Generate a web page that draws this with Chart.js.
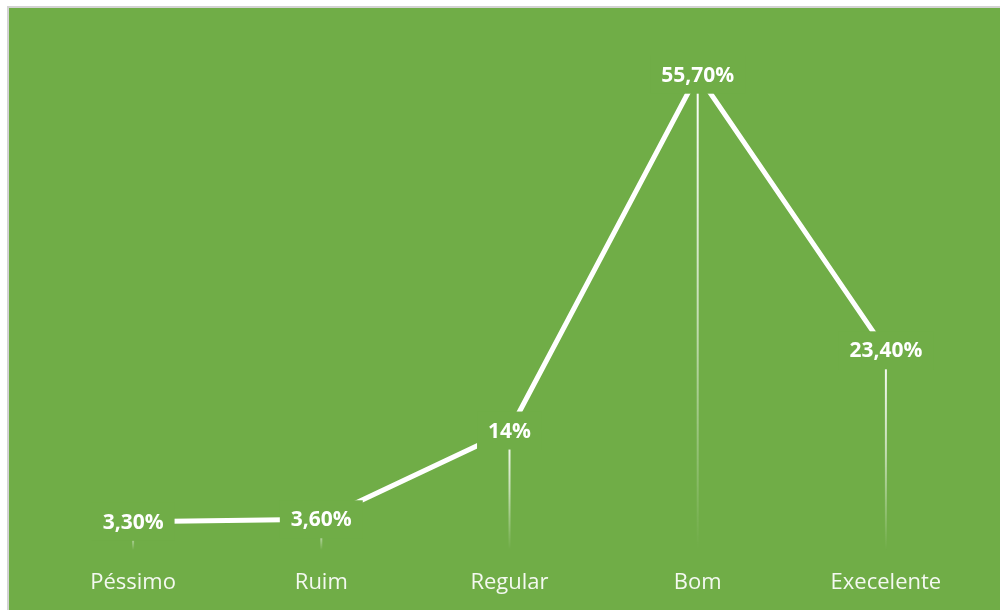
<!DOCTYPE html>
<html>
<head>
<meta charset="utf-8">
<script src="https://cdn.jsdelivr.net/npm/chart.js@4/dist/chart.umd.min.js"></script>
<style>
  html, body { margin: 0; padding: 0; background: #ffffff; overflow: hidden; width: 1000px; height: 610px; }
  #frame { position: absolute; left: 7px; top: 6px; width: 1010px; height: 620px; border: 2px solid #d3d3d3; background: #70AD47; }
  #wrap { position: absolute; left: 0; top: 0; width: 991px; height: 602px; }
</style>
</head>
<body>
<div id="frame"><div id="wrap"><canvas id="c"></canvas></div></div>
<script>
const categories = ["Péssimo", "Ruim", "Regular", "Bom", "Execelente"];
const values = [3.3, 3.6, 14, 55.7, 23.4];
const valueLabels = ["3,30%", "3,60%", "14%", "55,70%", "23,40%"];
const yMin = 0;
const yMax = 60;

const GREEN = '#70AD47';

const dropLines = {
  id: 'dropLines',
  beforeDatasetsDraw(chart) {
    const ctx = chart.ctx;
    const meta = chart.getDatasetMeta(0);
    const yBottom = chart.scales.y.getPixelForValue(0);
    ctx.save();
    meta.data.forEach(pt => {
      const g = ctx.createLinearGradient(0, pt.y, 0, yBottom);
      g.addColorStop(0, 'rgba(255,255,255,1)');
      g.addColorStop(0.5, 'rgba(255,255,255,0.6)');
      g.addColorStop(1, 'rgba(255,255,255,0)');
      ctx.strokeStyle = g;
      ctx.lineWidth = 2;
      ctx.beginPath();
      ctx.moveTo(pt.x, pt.y);
      ctx.lineTo(pt.x, yBottom);
      ctx.stroke();
    });
    ctx.restore();
  }
};

const dataLabels = {
  id: 'dataLabels',
  afterDatasetsDraw(chart) {
    const ctx = chart.ctx;
    const meta = chart.getDatasetMeta(0);
    ctx.save();
    ctx.font = 'bold 21px "Open Sans"';
    ctx.textAlign = 'center';
    ctx.textBaseline = 'middle';
    meta.data.forEach((pt, i) => {
      const txt = valueLabels[i];
      const w = ctx.measureText(txt).width;
      ctx.fillStyle = GREEN;
      ctx.fillRect(pt.x - w / 2 - 11, pt.y - 19, w + 22, 38);
      ctx.fillStyle = '#ffffff';
      ctx.fillText(txt, pt.x, pt.y + 1);
    });
    ctx.restore();
  }
};

new Chart(document.getElementById('c'), {
  type: 'line',
  data: {
    labels: categories,
    datasets: [{
      data: values,
      borderColor: '#ffffff',
      borderWidth: 5,
      pointRadius: 0,
      pointHoverRadius: 0,
      fill: false,
      tension: 0
    }]
  },
  options: {
    responsive: true,
    maintainAspectRatio: false,
    animation: false,
    events: [],
    layout: { padding: { top: 30, left: 30, right: 20, bottom: 0 } },
    plugins: { legend: { display: false }, tooltip: { enabled: false }, title: { display: false } },
    scales: {
      x: {
        offset: true,
        grid: { display: false, drawTicks: false },
        border: { display: false },
        ticks: {
          color: 'rgba(255,255,255,0.92)',
          font: { family: '"Open Sans"', size: 22 },
          padding: 20,
          maxRotation: 0,
          autoSkip: false
        },
        afterFit(s) { s.height = 60; }
      },
      y: {
        display: false,
        min: yMin,
        max: yMax
      }
    }
  },
  plugins: [dropLines, dataLabels]
});
</script>
</body>
</html>
